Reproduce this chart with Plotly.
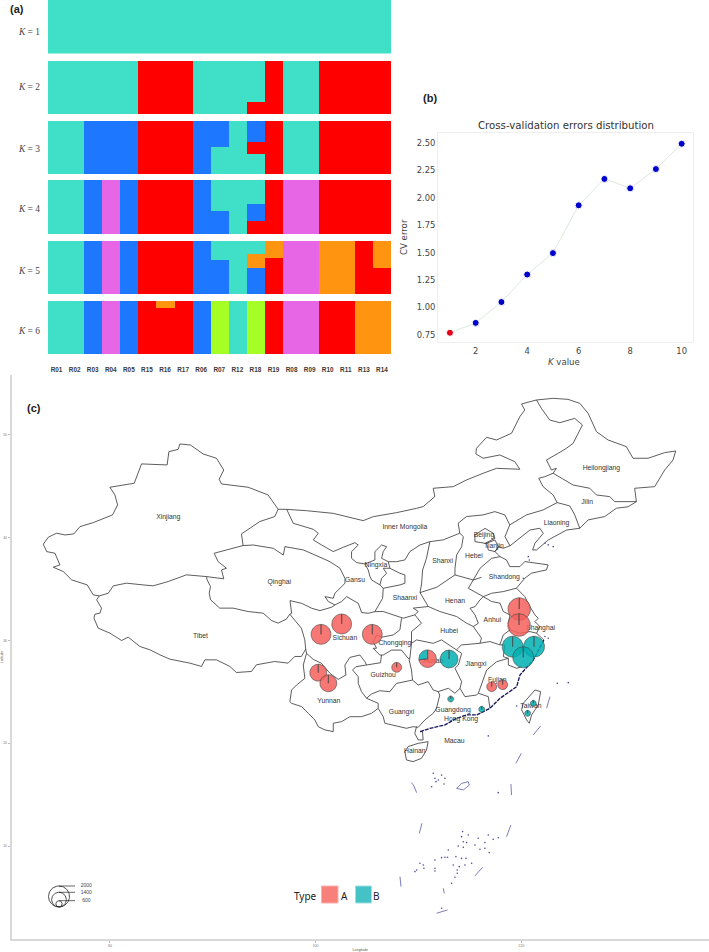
import numpy as np
import plotly.graph_objects as go

W, H = 709, 952

# ---------- panel (a): admixture proportions ----------
POPS = ["R01","R02","R03","R04","R05","R15","R16","R17","R06","R07","R12","R18","R19","R08","R09","R10","R11","R13","R14"]
TEAL, RED, BLUE, VIOLET, ORANGE, LIME = "#40DFC8", "#FE0000", "#1E78FF", "#E766E6", "#FF9410", "#A6FF24"

K1 = [(TEAL, [1]*19)]
K2 = [(RED,  [0,0,0,0,0,1,1,1,0,0,0,.23,1,0,0,1,1,1,1]),
      (TEAL, [1,1,1,1,1,0,0,0,1,1,1,.77,0,1,1,0,0,0,0])]
K3 = [(TEAL, [1,1,0,0,0,0,0,0,0,.51,1,.38,0,1,1,0,0,0,0]),
      (RED,  [0,0,0,0,0,1,1,1,0,0,0,.23,1,0,0,1,1,1,1]),
      (BLUE, [0,0,1,1,1,0,0,0,1,.49,0,.39,0,0,0,0,0,0,0])]
K4 = [(RED,  [0,0,0,0,0,1,1,1,0,0,0,.25,1,0,0,1,1,1,1]),
      (BLUE, [0,0,1,0,1,0,0,0,1,.44,0,.31,0,0,0,0,0,0,0]),
      (TEAL, [1,1,0,0,0,0,0,0,0,.56,1,.44,0,0,0,0,0,0,0]),
      (VIOLET,[0,0,0,1,0,0,0,0,0,0,0,0,0,1,1,0,0,0,0])]
K5 = [(BLUE, [0,0,1,0,1,0,0,0,1,.65,0,.5,0,0,0,0,0,0,0]),
      (RED,  [0,0,0,0,0,1,1,1,0,0,0,0,.69,0,0,0,0,1,.5]),
      (ORANGE,[0,0,0,0,0,0,0,0,0,0,0,.25,.31,0,0,1,1,0,.5]),
      (TEAL, [1,1,0,0,0,0,0,0,0,.35,1,.25,0,0,0,0,0,0,0]),
      (VIOLET,[0,0,0,1,0,0,0,0,0,0,0,0,0,1,1,0,0,0,0])]
K6 = [(RED,  [0,0,0,0,0,1,.86,1,0,0,0,0,1,0,0,1,1,0,0]),
      (ORANGE,[0,0,0,0,0,0,.14,0,0,0,0,0,0,0,0,0,0,1,1]),
      (BLUE, [0,0,1,0,1,0,0,0,1,0,0,0,0,0,0,0,0,0,0]),
      (LIME, [0,0,0,0,0,0,0,0,0,1,0,1,0,0,0,0,0,0,0]),
      (TEAL, [1,1,0,0,0,0,0,0,0,0,1,0,0,0,0,0,0,0,0]),
      (VIOLET,[0,0,0,1,0,0,0,0,0,0,0,0,0,1,1,0,0,0,0])]
K_ROWS = [K1, K2, K3, K4, K5, K6]
K_TOPS = [0, 60.5, 120.5, 179.5, 240.5, 300.5]
K_BOTS = [53.5, 114, 174, 234, 294, 354]

# ---------- panel (b): cross-validation ----------
K_VALUES = [1,2,3,4,5,6,7,8,9,10]
CV_ERROR = [0.77,0.86,1.05,1.30,1.495,1.93,2.17,2.085,2.26,2.49]

# ---------- panel (c): map outlines, degrees ----------
XJ_N = [(96.36,42.76),(95.38,44.15),(93.44,44.90),(90.85,45.22),(90.62,45.68),(91.07,46.58),(90.36,47.72),(89.06,48.14),(87.83,49.01),(86.80,49.11),(86.63,48.59),(85.73,48.36),(85.56,47.07),(83.07,47.17),(82.36,45.29),(79.99,44.90),(80.48,44.15),(80.74,43.18),(80.25,42.21),(78.37,41.46),(77.08,41.07),(76.49,40.36),(75.62,40.26),(74.81,40.43),(74.0,40.04),(73.51,39.36),(73.84,38.64),(74.65,38.48),(75.13,37.35),(74.48,37.12),(75.46,36.70),(76.27,35.89),(77.79,35.40),(78.37,34.43),(78.96,34.33)]
XJ_S = [(78.96,34.33),(79.83,34.59),(80.32,35.31),(81.61,35.57),(83.23,35.40),(84.2,35.31),(85.66,35.73),(87.44,36.38),(89.39,36.21),(91.07,35.99),(90.85,36.86),(91.33,37.02),(90.52,37.67),(90.13,38.48),(92.95,39.23),(92.79,40.36),(94.57,41.56),(96.03,42.05),(96.36,42.76)]
TIBET = [(78.96,34.33),(78.70,33.95),(79.18,33.14),(79.02,32.65),(78.53,32.55),(78.44,32.16),(78.86,31.19),(79.99,30.71),(81.13,29.99),(81.77,30.32),(82.91,29.41),(83.88,29.09),(84.85,28.60),(85.82,28.18),(87.77,27.79),(88.90,27.47),(89.23,28.11),(90.36,28.11),(91.66,27.47),(92.30,26.88),(93.76,26.98),(94.25,27.63),(96.03,27.95),(97.33,27.79),(97.97,28.44),(98.62,28.44),(99.04,29.15),(98.95,30.06),(98.62,31.19),(97.49,32.55)]
TIBET_QH = [(97.49,32.55),(97.16,32.07),(96.35,31.68),(95.71,31.94),(94.90,32.65),(93.44,32.81),(91.98,33.14),(90.68,33.14),(89.78,33.95),(89.65,34.59),(89.78,35.24),(89.45,35.89),(89.39,36.21)]
QINGHAI = [(92.95,39.23),(93.95,39.28),(95.89,38.96),(96.86,38.31),(97.02,39.12),(98.0,38.96),(98.81,38.80),(99.94,38.31),(101.40,37.66),(102.37,37.02),(102.86,36.04),(102.86,35.56),(101.88,34.59),(101.72,34.10),(100.91,34.26),(101.24,33.78),(101.88,33.45),(101.56,33.23),(100.43,32.90),(99.62,33.13),(98.64,33.61),(97.51,33.87),(97.67,32.64),(97.49,32.55)]
GS_IM = [(96.36,42.76),(97.19,42.75),(97.83,41.39),(99.78,40.81),(100.26,40.42),(99.78,39.77),(100.59,39.28),(101.72,38.64),(102.69,39.06),(103.83,39.51),(104.15,39.28),(103.50,38.64),(103.50,37.99),(103.99,37.57),(104.80,37.44)]
GS_NX = [(104.80,37.44),(105.12,36.85),(105.29,36.21),(105.45,35.88),(106.26,35.40),(106.42,36.04),(106.91,36.53),(106.58,37.02),(107.23,37.02)]
NX_N = [(107.23,37.02),(107.07,37.66),(106.42,37.99),(106.58,38.64),(106.91,39.12),(106.42,39.28),(105.77,38.64),(105.77,37.83),(104.80,37.44)]
GS_SX = [(106.26,35.40),(106.58,35.07),(106.52,34.10),(105.77,32.80)]
GS_SX2 = [(107.23,37.02),(108.20,36.53),(108.69,36.37),(108.69,35.56),(108.20,35.40),(106.58,35.07)]
GS_SC = [(105.77,32.80),(105.12,32.64),(104.48,32.71),(104.15,33.61),(103.02,34.26),(102.53,33.78),(101.88,33.45)]
IM_SX = [(107.07,37.66),(107.88,37.66),(108.69,37.83),(109.17,38.64),(110.15,39.28),(111.12,39.61)]
IM_N = [(97.19,42.75),(99.13,42.62),(101.72,42.36),(104.64,41.65),(105.61,42.04),(107.88,42.43),(109.82,42.85),(110.47,43.02),(111.60,43.99),(111.44,44.80),(113.39,44.96),(114.68,45.61),(116.30,46.26),(117.60,46.74),(119.87,46.65),(119.38,47.39),(117.92,48.04),(116.30,47.72),(115.59,48.14),(115.65,48.69),(116.63,49.76),(117.60,49.50),(119.06,50.15),(119.87,51.77),(120.35,52.41),(120.03,53.0),(121.49,53.39)]
IM_HLJ = [(121.49,53.39),(121.97,52.57),(122.78,51.44),(123.75,51.18),(125.21,51.60),(125.96,50.96),(125.05,49.17),(124.40,48.69),(123.59,48.20),(122.46,47.55),(122.94,46.58),(123.43,46.74),(123.11,46.26),(122.30,45.93),(121.71,45.77),(122.13,44.96),(123.11,44.15),(123.50,43.41)]
IM_S = [(123.50,43.41),(122.13,42.69),(120.51,42.21),(119.22,41.40),(118.89,41.24),(118.41,42.21),(117.44,42.53),(116.30,42.21),(114.68,42.05),(113.87,41.40),(114.03,40.43),(112.41,39.78),(111.12,39.61)]
HLJ = [(121.49,53.39),(123.11,53.55),(124.56,53.45),(125.70,53.06),(126.51,52.09),(127.32,50.31),(128.45,49.50),(130.23,48.85),(130.88,47.72),(132.34,47.72),(133.96,48.27),(135.03,48.43),(134.77,47.55),(133.96,46.58),(132.99,44.96),(131.04,44.80),(131.21,43.50)]
JL_HLJ = [(123.11,46.26),(123.92,45.77),(125.05,45.12),(126.67,44.80),(127.32,44.15),(128.61,43.99),(129.10,43.50),(131.21,43.50),(130.40,43.0),(129.26,42.86),(128.13,42.05),(126.51,41.72),(125.70,40.91)]
JL_LN = [(123.50,43.41),(124.73,43.08),(125.21,42.21),(125.70,40.91)]
NORTH_COAST = [(125.70,40.91),(124.42,40.74),(122.63,39.77),(121.50,38.80),(121.11,38.80),(121.34,39.45),(122.15,40.42),(121.82,40.91),(120.85,40.74),(119.88,39.93),(118.91,39.20),(118.26,38.96),(117.78,39.12),(117.46,38.64),(117.94,38.15),(118.57,37.83),(118.89,37.18),(119.87,37.18),(120.35,37.67),(122.62,37.35),(122.46,36.86),(121.0,36.54),(120.35,36.05),(119.54,35.08),(120.35,34.27),(120.85,33.29),(121.34,32.48),(121.66,32.16),(121.34,31.83),(121.82,31.35),(121.5,30.70),(122.21,30.04)]
SOUTH_COAST = [(122.21,30.04),(121.18,28.10),(119.88,26.64),(119.56,25.50),(117.94,24.37),(116.96,23.40),(115.67,22.75),(114.70,22.75),(113.72,22.43),(112.59,21.78),(111.13,21.45),(110.16,21.13)]
HB_LN = [(118.89,41.24),(118.42,40.10),(118.91,39.20)]
HB_SD = [(117.94,38.15),(117.13,37.99),(116.0,37.02),(115.34,35.88),(116.15,36.14)]
SD_S = [(115.34,35.88),(114.86,35.07),(116.32,34.26),(117.13,34.59),(118.26,34.75),(119.54,35.08)]
SHANXI_E = [(114.03,40.43),(114.37,40.10),(114.21,39.12),(113.72,38.31),(113.56,37.02),(113.56,36.37),(115.34,35.88)]
SHANXI_S = [(113.56,36.37),(111.78,35.17),(110.16,34.65)]
SHANXI_W = [(111.12,39.61),(110.79,38.0),(110.41,36.85),(110.31,35.5),(110.16,34.65)]
SHAANXI_S = [(110.16,34.65),(110.96,33.30),(109.50,33.14),(109.98,32.81),(109.66,32.49),(108.53,32.16),(106.58,32.81),(105.77,32.80)]
CHONGQING_W = [(108.36,32.15),(108.20,31.02),(107.55,30.53),(106.41,30.31),(105.93,30.53),(105.60,29.89),(105.93,29.24),(105.60,29.23),(106.25,28.58),(106.58,28.58),(107.39,29.06),(108.36,29.06),(109.01,28.25),(109.17,28.27)]
CHONGQING_E = [(109.66,32.49),(110.30,31.67),(109.33,30.86),(109.33,29.72),(109.17,28.27)]
HN_HB = [(109.33,29.72),(109.82,30.05),(111.44,29.72),(112.25,30.05),(113.70,29.08),(114.19,29.56),(115.97,29.72),(116.95,29.89),(117.92,29.57)]
HB_HN = [(110.96,33.30),(112.09,32.81),(113.71,32.33),(114.68,31.68),(115.34,31.35)]
HN_AH = [(116.32,34.26),(115.99,33.94),(115.51,33.29),(115.02,33.13),(115.51,32.48),(115.83,31.67),(115.34,31.35),(116.14,30.22),(115.98,29.72)]
AH_JS = [(116.32,34.26),(117.13,33.78),(117.94,33.62),(118.26,32.81),(118.91,32.48),(118.75,31.67),(118.91,31.02),(118.26,30.54),(117.92,29.57)]
ZJ_N = [(118.91,31.02),(119.88,30.70),(120.85,30.86),(121.50,30.70)]
ZJ_W = [(117.92,29.57),(118.42,29.55),(118.26,28.42),(118.75,28.26),(118.75,27.61),(119.56,27.29),(120.05,27.45)]
JX_FJ = [(118.75,28.26),(117.61,27.93),(116.64,27.12),(116.32,26.15),(115.83,24.86),(116.80,24.53),(116.96,23.40)]
JX_GD = [(115.83,24.86),(115.67,24.69),(114.53,24.53),(114.05,25.34),(114.21,25.99),(113.56,27.29),(113.89,27.61),(114.21,28.74),(113.70,29.08)]
HN_GD = [(114.05,25.34),(113.56,24.86),(112.91,25.34),(112.10,25.02),(111.92,25.02),(111.44,25.18),(110.95,25.99),(109.98,25.66),(109.43,26.14)]
GX_GD = [(111.92,25.02),(112.08,24.69),(111.76,23.39),(111.44,22.91),(110.63,22.26),(109.98,21.55)]
GX_S = [(109.98,21.55),(109.49,21.61),(108.84,21.45),(107.71,21.68),(106.74,21.94),(106.58,22.58),(106.09,23.39),(106.09,23.88),(105.28,24.20),(104.96,24.37)]
GZ_S = [(104.96,24.37),(105.44,24.79),(106.25,25.11),(107.22,25.01),(107.87,25.82),(109.43,26.14),(109.33,27.12),(109.10,28.09),(109.17,28.27)]
GZ_W = [(104.96,24.37),(104.47,25.01),(104.15,25.82),(104.15,26.47),(103.60,27.12),(103.92,27.44),(104.96,27.61),(106.32,27.83),(106.41,28.58)]
YN_SC = [(99.04,29.15),(99.12,28.74),(99.77,28.16),(100.58,27.77),(101.39,26.80),(102.20,26.21),(102.95,26.63),(102.85,27.61),(103.34,28.35),(104.31,28.58),(104.80,27.93),(104.96,27.61)]
YN_W = [(99.12,28.74),(98.80,27.61),(98.96,26.31),(98.15,25.66),(97.67,25.18),(97.50,24.04),(97.67,23.88),(98.64,23.56),(99.29,22.91),(99.93,22.26),(100.26,21.61),(100.91,21.29),(101.72,21.13),(101.72,21.94),(102.53,22.10),(103.34,22.58),(104.47,22.58),(105.44,22.91),(106.09,23.39)]
LEIZHOU = [(109.82,21.61),(109.65,20.96),(109.98,20.32),(110.46,20.32),(110.40,21.13),(110.16,21.13)]
HAINAN = [(108.68,19.18),(109.0,19.67),(109.98,19.99),(110.95,20.15),(110.79,19.34),(110.30,18.53),(109.49,18.21),(108.84,18.37),(108.68,19.18)]
TAIWAN = [(120.20,23.88),(121.34,25.18),(121.89,25.02),(121.66,23.72),(121.01,22.75),(120.79,21.94),(120.53,22.26),(120.04,23.24),(120.20,23.88)]
BEIJING = [(115.50,40.26),(116.48,40.90),(117.29,40.42),(117.45,39.93),(116.48,39.45),(115.50,39.61),(115.50,40.26)]
TIANJIN = [(116.64,39.45),(117.45,39.77),(117.78,39.12),(117.45,38.64),(116.80,38.80),(116.64,39.45)]
BORDERS = [XJ_N,XJ_S,TIBET,TIBET_QH,QINGHAI,GS_IM,GS_NX,NX_N,GS_SX,GS_SX2,GS_SC,IM_SX,IM_N,IM_HLJ,IM_S,HLJ,JL_HLJ,JL_LN,NORTH_COAST,HB_LN,HB_SD,SD_S,SHANXI_E,SHANXI_S,SHANXI_W,SHAANXI_S,CHONGQING_W,CHONGQING_E,HN_HB,HB_HN,HN_AH,AH_JS,ZJ_N,ZJ_W,JX_FJ,JX_GD,HN_GD,GX_GD,GX_S,GZ_S,GZ_W,YN_SC,YN_W,LEIZHOU,HAINAN,TAIWAN,BEIJING,TIANJIN]

DASHES = [[(122.47,23.40),(122.80,24.53)],[(121.18,20.81),(121.89,21.68)],[(119.49,18.05),(120.01,19.02)],
          [(109.34,16.16),(109.57,15.83),(109.83,15.19)],[(119.0,16.03),(119.06,14.96)],[(110.09,11.23),(110.35,12.21)],
          [(118.58,10.91),(119.0,12.04)],[(115.50,7.09),(116.25,7.93)],[(108.21,7.02),(108.31,6.05)],
          [(112.42,5.89),(112.52,5.40)],[(111.77,3.46),(112.84,3.78)],
          [(113.72,15.61),(114.20,16.09),(114.85,16.26),(114.95,15.93),(114.37,15.45),(113.72,15.61)]]
ISLANDS = [(111.45,17.07),(112.26,16.90),(112.58,16.58),(111.61,16.58),(111.71,16.26),(111.94,16.42),(112.49,16.03),(111.29,15.77),(117.77,15.19),(114.30,11.40),(114.20,10.91),(114.85,11.07),(114.37,10.42),(114.69,10.33),(115.82,10.75),(116.80,11.07),(117.28,10.65),(117.77,10.81),(116.47,10.33),(115.50,10.10),(114.37,9.87),(113.88,10.0),(115.99,9.68),(116.47,9.78),(116.89,9.36),(112.91,9.61),(112.26,8.87),(112.58,8.90),(112.84,8.90),(113.65,8.97),(114.20,8.80),(114.63,8.80),(113.39,8.16),(113.98,7.99),(114.53,8.16),(115.18,8.32),(111.61,8.64),(110.15,8.32),(110.48,8.16),(110.54,7.83),(109.83,7.67),(109.67,7.51),(111.61,7.83),(111.61,7.57),(113.78,7.67),(113.78,7.35),(113.56,6.96),(113.23,6.37),(112.26,3.94),(116.80,20.71),(119.56,23.62),(123.51,25.83),(124.58,25.89),(122.31,30.38),(122.63,30.21),(122.15,29.89),(122.63,39.29),(123.12,39.12),(122.31,39.45),(120.69,38.15),(120.79,37.83),(120.2,36.05)]

PROVINCES = ["Xinjiang","Tibet","Qinghai","Gansu","Ningxia","Sichuan","Chongqing","Yunnan","Guizhou","Guangxi","Hainan","Hunan","Hubei","Guangdong","Hong Kong","Macau","Taiwan","Fujian","Jiangxi","Shanghai","Anhui","Henan","Shandong","Shanxi","Hebei","Beijing","Tianjin","Liaoning","Jilin","Heilongjiang","Inner Mongolia","Shaanxi"]
PROV_LON = [85.67,88.80,96.47,103.83,105.87,102.85,107.71,101.29,106.58,108.36,109.65,111.44,113.0,113.38,114.15,113.50,120.95,117.68,115.60,121.89,117.19,113.56,118.36,112.36,115.41,116.38,117.35,123.44,126.41,127.80,108.69,108.69]
PROV_LAT = [41.95,30.41,35.69,35.88,37.31,30.20,29.71,24.10,26.60,22.97,19.18,27.97,30.85,23.23,22.33,20.16,23.62,26.09,27.71,31.18,31.96,33.78,36.14,37.67,38.15,40.19,39.12,41.39,43.44,46.74,41.0,34.10]

PIE_LON = [100.53,102.54,105.52,107.89,100.26,101.24,110.90,112.98,119.81,119.79,119.17,121.25,120.20,117.13,118.20,113.14,116.16,121.18,120.63]
PIE_LAT = [30.59,31.60,30.59,27.38,26.86,25.83,28.22,28.19,33.05,31.50,29.39,29.39,28.36,25.50,25.69,24.30,23.30,23.88,22.91]
PIE_TOTAL = [1900,1900,1900,950,1620,1620,1680,1710,2150,2150,2000,2000,2000,950,950,570,570,570,570]
PIE_B = [0,0,0,0,0,0,.27,1,0,0,1,1,1,0,0,1,1,1,1]

SIZE_LEGEND = [2000,1400,600]
TYPE_A, TYPE_B = "rgba(245,95,90,0.85)", "rgba(0,175,178,0.85)"

def deg_radius(v):
    return v / 2000 * 1.02

def xy(pts):
    return [p[0] for p in pts], [p[1] for p in pts]

def join(lines):
    xs, ys = [], []
    for ln in lines:
        a, b = xy(ln)
        xs += a + [None]
        ys += b + [None]
    return xs, ys

def wedge(lon, lat, r, f0, f1):
    t = 2 * np.pi * np.linspace(f0, f1, max(8, int(72 * (f1 - f0))))
    return ([lon] + list(lon + r * np.sin(t)) + [lon],
            [lat] + list(lat + r * np.cos(t)) + [lat])

fig = go.Figure()

# (a)
for i, rows in enumerate(K_ROWS, start=1):
    for colour, vals in rows:
        fig.add_trace(go.Bar(x=POPS, y=vals, marker=dict(color=colour, line_width=0),
                             xaxis=f"x{i}", yaxis=f"y{i}", showlegend=False))

# (b)
fig.add_trace(go.Scatter(x=K_VALUES, y=CV_ERROR, mode="lines", line=dict(color="#dde9dd", width=1),
                         xaxis="x7", yaxis="y7", showlegend=False))
fig.add_trace(go.Scatter(x=K_VALUES, y=CV_ERROR, mode="markers",
                         marker=dict(color=["#E3001B"] + ["#0000CD"] * 9, size=7, line=dict(color="white", width=1)),
                         xaxis="x7", yaxis="y7", showlegend=False))

# (c)
mx, my = join(BORDERS)
fig.add_trace(go.Scatter(x=mx, y=my, mode="lines", line=dict(color="#333333", width=0.8),
                         xaxis="x8", yaxis="y8", showlegend=False))
cx, cy = xy(SOUTH_COAST)
fig.add_trace(go.Scatter(x=cx, y=cy, mode="lines", line=dict(color="#14145a", width=1.3, dash="4px,1px"),
                         xaxis="x8", yaxis="y8", showlegend=False))
dx, dy = join(DASHES)
fig.add_trace(go.Scatter(x=dx, y=dy, mode="lines", line=dict(color="#5a5aa8", width=0.8),
                         xaxis="x8", yaxis="y8", showlegend=False))
ix, iy = xy(ISLANDS)
fig.add_trace(go.Scatter(x=ix, y=iy, mode="markers", marker=dict(color="#4a4aa0", size=1.6),
                         xaxis="x8", yaxis="y8", showlegend=False))
fig.add_trace(go.Scatter(x=PROV_LON, y=PROV_LAT, mode="text", text=PROVINCES,
                         textfont=dict(family="Liberation Sans", size=6.8, color="#333333"),
                         xaxis="x8", yaxis="y8", showlegend=False))

for lon, lat, tot, fb in zip(PIE_LON, PIE_LAT, PIE_TOTAL, PIE_B):
    r = deg_radius(tot)
    slices = [(0, 1 - fb, TYPE_A), (1 - fb, 1, TYPE_B)]
    for f0, f1, col in slices:
        if f1 - f0 <= 0:
            continue
        wx, wy = wedge(lon, lat, r, f0, f1)
        fig.add_trace(go.Scatter(x=wx, y=wy, mode="lines", fill="toself", fillcolor=col,
                                 line=dict(color="#444444", width=0.6),
                                 xaxis="x8", yaxis="y8", showlegend=False))

LEG_LON, LEG_BOTTOM, LEAD_LON, LABEL_LON = 75.04, 4.07, 76.6, 77.2
for v in SIZE_LEGEND:
    r = deg_radius(v)
    t = np.linspace(0, 2 * np.pi, 73)
    fig.add_trace(go.Scatter(x=LEG_LON + r * np.sin(t), y=LEG_BOTTOM + r + r * np.cos(t), mode="lines",
                             line=dict(color="#222222", width=0.8), xaxis="x8", yaxis="y8", showlegend=False))
    top = LEG_BOTTOM + 2 * r
    fig.add_trace(go.Scatter(x=[LEG_LON, LEAD_LON], y=[top, top], mode="lines",
                             line=dict(color="#222222", width=0.7), xaxis="x8", yaxis="y8", showlegend=False))
    fig.add_trace(go.Scatter(x=[LABEL_LON + 0.5], y=[top], mode="text", text=[str(v)],
                             textfont=dict(family="Liberation Sans", size=5, color="#444444"),
                             xaxis="x8", yaxis="y8", showlegend=False))

def px_x(p): return p / W
def px_y(p): return 1 - p / H

layout = dict(width=W, height=H, margin=dict(l=0, r=0, t=0, b=0), paper_bgcolor="white", plot_bgcolor="white",
              barmode="stack", bargap=0, showlegend=False, hovermode=False)

for i in range(1, 7):
    layout[f"xaxis{i}"] = dict(domain=[px_x(47.5), px_x(391)], anchor=f"y{i}", type="category",
                               categoryorder="array", categoryarray=POPS, range=[-0.5, 18.5],
                               showgrid=False, zeroline=False, showline=False,
                               showticklabels=(i == 6), ticks="outside" if i == 6 else "", ticklen=9,
                               tickcolor="rgba(0,0,0,0)", tickangle=0,
                               tickprefix="<b>", ticksuffix="</b>",
                               tickfont=dict(family="Liberation Sans", size=6.4, color="#3a3a3a"))
    layout[f"yaxis{i}"] = dict(domain=[px_y(K_BOTS[i-1]), px_y(K_TOPS[i-1])], anchor=f"x{i}",
                               range=[0, 1], visible=False)

layout["xaxis7"] = dict(domain=[px_x(438), px_x(693)], anchor="y7", range=[0.536, 10.44],
                        tickvals=[2,4,6,8,10], showgrid=False, zeroline=False,
                        showline=True, mirror=True, linecolor="#eeeeee", linewidth=1, ticks="",
                        tickfont=dict(family="DejaVu Sans", size=8.4, color="#444444"), ticklabelstandoff=1)
layout["yaxis7"] = dict(domain=[px_y(342), px_y(133)], anchor="x7", range=[0.686, 2.588],
                        tickvals=[0.75,1.0,1.25,1.5,1.75,2.0,2.25,2.5], tickformat=".2f", showgrid=False, zeroline=False,
                        showline=True, mirror=True, linecolor="#eeeeee", linewidth=1, ticks="",
                        tickfont=dict(family="DejaVu Sans", size=8.4, color="#444444"))

layout["xaxis8"] = dict(domain=[px_x(11.5), 1], anchor="y8", range=[70.42, 138.27],
                        tickvals=[80,100,120], showgrid=False, zeroline=False,
                        showline=True, linecolor="#d8d8d8", linewidth=1.5, ticks="outside", ticklen=2, tickcolor="#bbbbbb",
                        tickfont=dict(family="Liberation Sans", size=3.5, color="#777777"),
                        title=dict(text="Longitude", standoff=2, font=dict(family="Liberation Sans", size=3.5, color="#555555")))
layout["yaxis8"] = dict(domain=[px_y(939), px_y(375)], anchor="x8", range=[0.954, 55.82],
                        tickvals=[10,20,30,40,50], showgrid=False, zeroline=False,
                        showline=True, linecolor="#d8d8d8", linewidth=1.5, ticks="outside", ticklen=2, tickcolor="#bbbbbb",
                        tickfont=dict(family="Liberation Sans", size=3.5, color="#777777"),
                        title=dict(text="Latitude", standoff=1, font=dict(family="Liberation Sans", size=3.5, color="#555555")))

def note(text, x, y, size, color="#222222", family="Liberation Sans", angle=0):
    return dict(text=text, x=px_x(x), y=px_y(y), xref="paper", yref="paper", showarrow=False,
                xanchor="center", yanchor="middle", textangle=angle,
                font=dict(family=family, size=size, color=color))

notes = [note("<b>(a)</b>", 17, 9, 11), note("<b>(b)</b>", 430, 98, 11), note("<b>(c)</b>", 34, 408, 11),
         note("Cross-validation errors distribution", 565.7, 125.7, 10.2, "#333333", "DejaVu Sans"),
         note("<i>K</i> value", 564, 362, 8.6, "#444444", "DejaVu Sans"),
         note("CV error", 404, 237, 8.6, "#444444", "DejaVu Sans", -90),
         note("Type", 305, 896, 10, "#222222", "Noto Sans"),
         note("A", 344, 896, 10, "#222222", "Noto Sans"),
         note("B", 377, 896, 10, "#222222", "Noto Sans")]
for k, yy in zip(range(1, 7), [32, 87, 149, 209, 271, 331]):
    notes.append(note(f"<i>K</i> = {k}", 29, yy, 9.4, "#444444", "Liberation Serif"))

def swatch(x0, x1, col, edge):
    return dict(type="rect", xref="paper", yref="paper", x0=px_x(x0), x1=px_x(x1), y0=px_y(903), y1=px_y(886),
                fillcolor=col, line=dict(color=edge, width=1))

layout["annotations"] = notes
layout["shapes"] = [swatch(321.5, 338, "#F8807A", "#FBB0AC"), swatch(355.5, 371.5, "#45C2C6", "#9CE0E2")]

fig.update_layout(**layout)
fig.write_html("out.html", config={"displayModeBar": False},
               post_script="document.body.style.margin='0';document.documentElement.style.overflow='hidden';")
